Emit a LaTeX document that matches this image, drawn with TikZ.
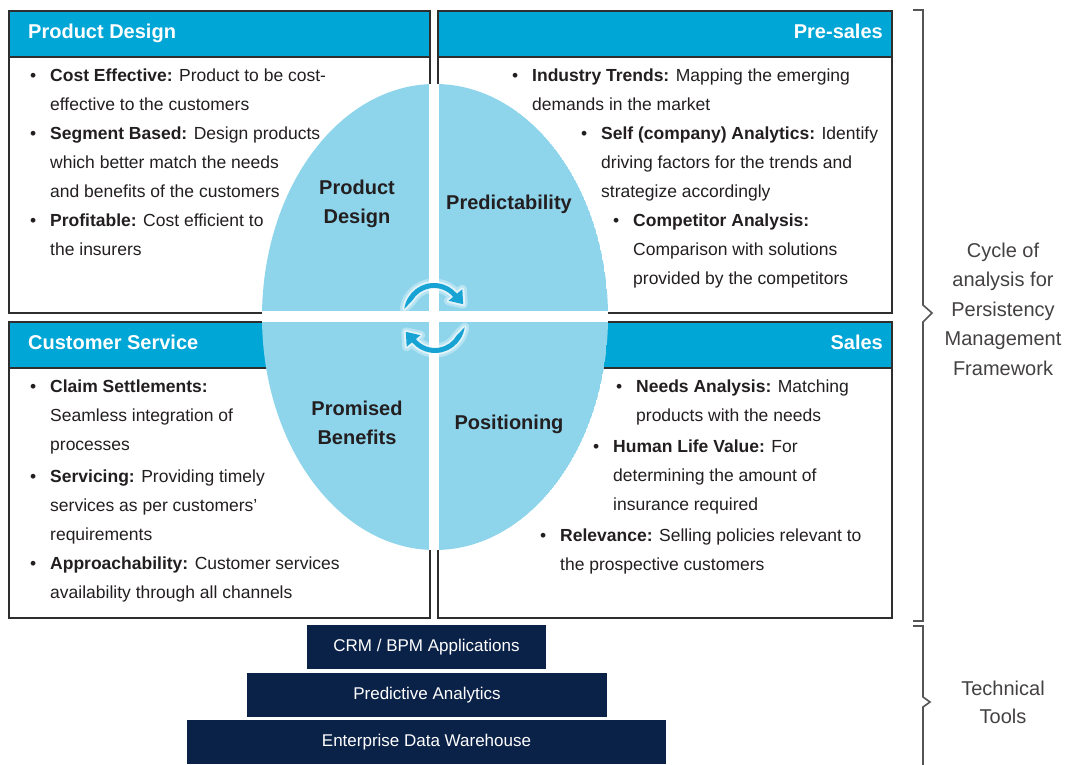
\documentclass[tikz,border=0pt]{standalone}
\usepackage{fontspec}
\setmainfont{Liberation Sans}
\usetikzlibrary{calc}

\definecolor{headcyan}{HTML}{00A6D5}
\definecolor{ovalblue}{HTML}{8ED5EC}
\definecolor{arrowblue}{HTML}{17A4D5}
\definecolor{navy}{HTML}{0B2248}
\definecolor{ink}{HTML}{231F20}
\definecolor{rulegray}{HTML}{2E2E2E}
\definecolor{bracegray}{HTML}{555555}

% bullet with hanging indent for the panel lists
\newcommand\bul{\makebox[20pt][l]{\textbullet}}
\newcommand\ind{\hspace*{20pt}}

\tikzset{
  panel/.style={draw=rulegray, line width=1.6pt, fill=white},
  header/.style={draw=rulegray, line width=1.6pt, fill=headcyan},
  headtext/.style={font=\fontsize{20}{24}\selectfont\bfseries, text=white, inner sep=0},
  body/.style={font=\fontsize{17.5}{29}\selectfont, text=ink, inner sep=0, anchor=north west, align=left},
  ovallabel/.style={font=\fontsize{20}{29}\selectfont\bfseries, text=ink, inner sep=0, align=center},
  tool/.style={fill=navy, text=white, font=\fontsize{17}{20}\selectfont, minimum height=44pt, inner sep=0},
  sidenote/.style={font=\fontsize{20}{29.5}\selectfont, text=ink!85, align=center, inner sep=0, anchor=north},
  brace/.style={draw=bracegray, line width=1.6pt},
  turn arrow/.pic={
    \def\turnpath{(172:30pt) arc[start angle=172,end angle=40,radius=30pt]
      -- (40:37pt) -- ($(40:28pt)+(-50:12pt)$) -- (40:19pt) -- (40:25pt)
      arc[start angle=40,end angle=150,radius=25pt] -- cycle}
    \filldraw[white, opacity=.35, line width=9pt, line join=round] \turnpath;
    \filldraw[white, opacity=.6, line width=4pt, line join=round] \turnpath;
    \fill[arrowblue] \turnpath;
  }
}

\begin{document}
\begin{tikzpicture}[x=1pt,y=1pt]
\useasboundingbox (0,0) rectangle (1065,-765);
\fill[white] (0,0) rectangle (1065,-765);

% four panels with their header bars
\draw[panel]  (9,-11)   rectangle (430,-313);
\draw[header] (9,-11)   rectangle (430,-57);
\draw[panel]  (438,-11) rectangle (892,-313);
\draw[header] (438,-11) rectangle (892,-57);
\draw[panel]  (9,-322)  rectangle (430,-618);
\draw[header] (9,-322)  rectangle (430,-368);
\draw[panel]  (438,-322) rectangle (892,-618);
\draw[header] (438,-322) rectangle (892,-368);

\node[headtext, anchor=base west] (hpd) at (28,-39)  {Product Design};
\node[headtext, anchor=base east] (hps) at (883,-39) {Pre-sales};
\node[headtext, anchor=base west] (hcs) at (28,-349) {Customer Service};
\node[headtext, anchor=base east] (hsa) at (883,-349) {Sales};

% central oval split into four quadrants
\begin{scope}
  \clip (435,-317) ellipse[x radius=173pt, y radius=233pt];
  \fill[ovalblue] (435,-317) ellipse[x radius=173pt, y radius=233pt];
  \fill[white] (429,-70) rectangle (439,-570);
  \fill[white] (250,-311) rectangle (620,-322);
\end{scope}

\node[ovallabel, anchor=north] (qpd) at (357,-173.7) {\strut Product\\Design};
\node[ovallabel, anchor=base]  (qpr) at (509,-209)   {Predictability};
\node[ovallabel, anchor=north] (qpb) at (357,-394.7) {\strut Promised\\Benefits};
\node[ovallabel, anchor=base]  (qpo) at (509,-429)   {Positioning};

% cycle arrows at the centre
\pic at (434,-313) {turn arrow};
\pic[rotate=180] at (435,-323) {turn arrow};

% Product Design list
\node[body] (pd1) at (30,-61.2)  {\strut\bul\textbf{Cost Effective:} Product to be cost-\\\ind effective to the customers};
\node[body] (pd2) at (30,-119.2) {\strut\bul\textbf{Segment Based:} Design products\\\ind which better match the needs\\\ind and benefits of the customers};
\node[body] (pd3) at (30,-206.2) {\strut\bul\textbf{Profitable:} Cost efficient to\\\ind the insurers};

% Pre-sales list
\node[body] (ps1) at (512,-61.2)  {\strut\bul\textbf{Industry Trends:} Mapping the emerging\\\ind demands in the market};
\node[body] (ps2) at (581,-119.2) {\strut\bul\textbf{Self (company) Analytics:} Identify\\\ind driving factors for the trends and\\\ind strategize accordingly};
\node[body] (ps3) at (613,-206.2) {\strut\bul\textbf{Competitor Analysis:}\\\ind Comparison with solutions\\\ind provided by the competitors};

% Customer Service list
\node[body] (cs1) at (30,-372.2) {\strut\bul\textbf{Claim Settlements:}\\\ind Seamless integration of\\\ind processes};
\node[body] (cs2) at (30,-462.2) {\strut\bul\textbf{Servicing:} Providing timely\\\ind services as per customers’\\\ind requirements};
\node[body] (cs3) at (30,-549.2) {\strut\bul\textbf{Approachability:} Customer services\\\ind availability through all channels};

% Sales list
\node[body] (sa1) at (616,-372.2) {\strut\bul\textbf{Needs Analysis:} Matching\\\ind products with the needs};
\node[body] (sa2) at (593,-432.2) {\strut\bul\textbf{Human Life Value:} For\\\ind determining the amount of\\\ind insurance required};
\node[body] (sa3) at (540,-521.2) {\strut\bul\textbf{Relevance:} Selling policies relevant to\\\ind the prospective customers};

% technical tools stack
\node[tool, minimum width=239pt] (crm) at (426.5,-647) {CRM / BPM Applications};
\node[tool, minimum width=360pt] (pa)  at (427,-695)   {Predictive Analytics};
\node[tool, minimum width=479pt] (edw) at (426.5,-742) {Enterprise Data Warehouse};

% right-hand braces and their notes
\draw[brace] (913,-10) -- (923,-10) -- (923,-305) -- (932,-313) -- (923,-322) -- (923,-621) -- (913,-621);
\draw[brace] (913,-626) -- (923,-626) -- (923,-697) -- (930,-702) -- (923,-707) -- (923,-766);

\node[sidenote] (cyc) at (1003,-236.4) {\strut Cycle of\\analysis for\\Persistency\\Management\\Framework};
\node[sidenote, font=\fontsize{20}{28}\selectfont] (tec) at (1003,-675.4) {\strut Technical\\Tools};
\end{tikzpicture}
\end{document}
